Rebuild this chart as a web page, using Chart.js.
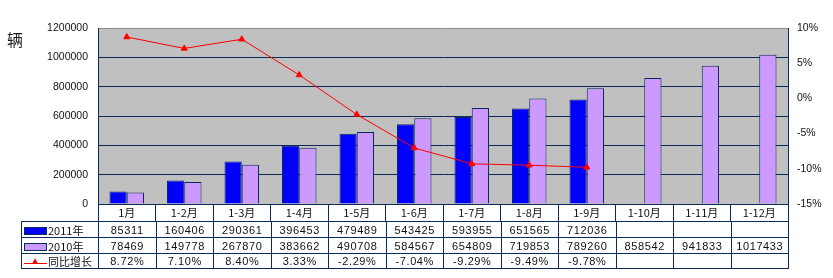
<!DOCTYPE html>
<html>
<head>
<meta charset="utf-8">
<script src="https://cdn.jsdelivr.net/npm/chart.js@4/dist/chart.umd.min.js"></script>
<style>
  html, body { margin: 0; padding: 0; background: #ffffff; }
  #wrap { position: relative; width: 833px; height: 278px; overflow: hidden; }
  #c { position: absolute; left: 0; top: 0; }
  #unit { position: absolute; left: 7px; top: 27px; font: 16px "Noto Sans CJK SC", sans-serif; color: #1a1a1a; }
  #tbl { position: absolute; border-collapse: collapse; table-layout: fixed;
         font: 11px "Liberation Sans", "Noto Sans CJK SC", sans-serif; color: #111; letter-spacing: 0.6px; }
  #tbl td { border: 1px solid #0b2b5c; padding: 0; text-align: center; white-space: nowrap; overflow: hidden; line-height: 14px; }
  #tbl td.lg { text-align: left; padding-left: 2px; font-family: "Noto Sans CJK SC", sans-serif; font-size: 11px; letter-spacing: 0; }
  .sw { display: inline-block; width: 21px; height: 6px; border: 1px solid #0b2b5c; vertical-align: middle; margin-right: 1px; margin-top: -2px; }
  .ln { display: inline-block; position: relative; width: 23px; height: 8px; vertical-align: middle; margin-right: 1px; margin-top: -2px; }
  .ln::before { content: ""; position: absolute; left: 0; right: 0; top: 5px; height: 1px; background: #ff0000; }
  .ln::after { content: ""; position: absolute; left: 8px; top: 0; width: 0; height: 0;
               border-left: 3.5px solid transparent; border-right: 3.5px solid transparent; border-bottom: 6px solid #ff0000; }
</style>
</head>
<body>
<div id="wrap">
  <canvas id="c" width="833" height="278"></canvas>
  <div id="unit">辆</div>
  <table id="tbl"></table>
</div>
<script>
const categories = ["1月", "1-2月", "1-3月", "1-4月", "1-5月", "1-6月", "1-7月", "1-8月", "1-9月", "1-10月", "1-11月", "1-12月"];
const sales2011 = [85311, 160406, 290361, 396453, 479489, 543425, 593955, 651565, 712036, null, null, null];
const sales2010 = [78469, 149778, 267870, 383662, 490708, 584567, 654809, 719853, 789260, 858542, 941833, 1017433];
const growth = [8.72, 7.10, 8.40, 3.33, -2.29, -7.04, -9.29, -9.49, -9.78, null, null, null];
const growthLabels = ["8.72%", "7.10%", "8.40%", "3.33%", "-2.29%", "-7.04%", "-9.29%", "-9.49%", "-9.78%", "", "", ""];
const seriesNames = ["2011年", "2010年", "同比增长"];
const leftTicks = [0, 200000, 400000, 600000, 800000, 1000000, 1200000];
const rightTicks = [-15, -10, -5, 0, 5, 10];

const NAVY = '#0b2b5c';
const tickFont = { family: '"Liberation Sans", sans-serif', size: 10.5 };

const bgPlugin = {
  id: 'plotBg',
  beforeDraw(chart) {
    const a = chart.chartArea, ctx = chart.ctx;
    ctx.save();
    ctx.fillStyle = '#c0c0c0';
    ctx.fillRect(a.left, a.top, a.right - a.left, a.bottom - a.top);
    ctx.restore();
  }
};

const chart = new Chart(document.getElementById('c'), {
  type: 'bar',
  data: {
    labels: categories,
    datasets: [
      { type: 'line', label: seriesNames[2], data: growth, yAxisID: 'y1', order: 0,
        borderColor: '#ff0000', borderWidth: 1, tension: 0, spanGaps: false,
        pointStyle: 'triangle', pointRadius: 3.5, pointBackgroundColor: '#ff0000', pointBorderColor: '#ff0000', pointBorderWidth: 1 },
      { label: seriesNames[0], data: sales2011, yAxisID: 'y', order: 1,
        backgroundColor: '#0000ff', borderColor: NAVY, borderWidth: 1,
        categoryPercentage: 0.6, barPercentage: 1.0 },
      { label: seriesNames[1], data: sales2010, yAxisID: 'y', order: 1,
        backgroundColor: '#cc99ff', borderColor: NAVY, borderWidth: 1,
        categoryPercentage: 0.6, barPercentage: 1.0 }
    ]
  },
  options: {
    responsive: false,
    devicePixelRatio: 1,
    animation: false,
    layout: { padding: { top: 28, left: 0, right: 0, bottom: 0 } },
    plugins: { legend: { display: false }, tooltip: { enabled: false } },
    scales: {
      x: {
        offset: true,
        grid: { offset: true, drawOnChartArea: false, drawTicks: true, tickLength: 17, tickColor: NAVY, color: NAVY },
        border: { display: true, color: NAVY, width: 1 },
        ticks: { color: '#111', font: { family: '"Noto Sans CJK SC", sans-serif', size: 11 }, padding: -15, maxRotation: 0, autoSkip: false },
        afterFit(s) { s.height = 74; }
      },
      y: {
        position: 'left',
        min: 0, max: 1200000,
        afterBuildTicks(s) { s.ticks = leftTicks.map(v => ({ value: v })); },
        grid: { drawTicks: false, color: (c) => c.tick && c.tick.value === 1200000 ? '#8c8c8c' : NAVY },
        border: { display: true, color: NAVY, width: 1 },
        ticks: { color: '#111', font: tickFont, padding: 10, callback: (v) => String(v) },
        afterFit(s) { s.width = 98; }
      },
      y1: {
        position: 'right',
        min: -15, max: 10,
        afterBuildTicks(s) { s.ticks = rightTicks.map(v => ({ value: v })); },
        grid: { drawOnChartArea: false, drawTicks: false },
        border: { display: true, color: NAVY, width: 1 },
        ticks: { color: '#111', font: tickFont, padding: 9, callback: (v) => v + '%' },
        afterFit(s) { s.width = 45; }
      }
    }
  },
  plugins: [bgPlugin]
});

// Data table aligned with the category scale
(function buildTable() {
  const xs = chart.scales.x;
  const area = chart.chartArea;
  const tableLeft = 21;
  const colW = (xs.right - xs.left) / categories.length;
  const tbl = document.getElementById('tbl');
  tbl.style.left = tableLeft + 'px';
  tbl.style.top = (area.bottom + 17) + 'px';
  tbl.style.width = (xs.right - tableLeft) + 'px';
  let html = '<colgroup><col style="width:' + (xs.left - tableLeft) + 'px">';
  categories.forEach(() => { html += '<col style="width:' + colW + 'px">'; });
  html += '</colgroup>';
  const fmt = (v) => (v === null || v === undefined) ? '' : String(v);
  const rows = [
    { lg: '<span class="sw" style="background:#0000ff"></span>' + seriesNames[0], vals: sales2011.map(fmt), h: 16 },
    { lg: '<span class="sw" style="background:#cc99ff"></span>' + seriesNames[1], vals: sales2010.map(fmt), h: 16 },
    { lg: '<span class="ln"></span>' + seriesNames[2], vals: growthLabels, h: 15 }
  ];
  rows.forEach(r => {
    html += '<tr style="height:' + r.h + 'px"><td class="lg">' + r.lg + '</td>';
    r.vals.forEach(v => { html += '<td>' + v + '</td>'; });
    html += '</tr>';
  });
  tbl.innerHTML = html;
})();
</script>
</body>
</html>
